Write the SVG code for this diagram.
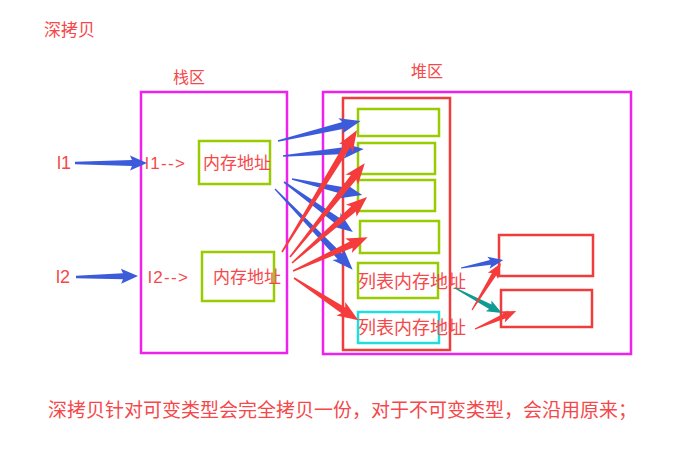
<svg xmlns="http://www.w3.org/2000/svg" width="678" height="457" viewBox="0 0 678 457">
<style>
text{font-family:"Liberation Sans","Noto Sans CJK SC",sans-serif;fill:#f5484a}
.mag{fill:none;stroke:#ee22ee;stroke-width:2.5}
.grn{fill:#fff;stroke:#99cc00;stroke-width:2.5}
.redb{fill:none;stroke:#f03c3c;stroke-width:2.5}
.redw{fill:#fff;stroke:#f03c3c;stroke-width:2.5}
.cyn{fill:#fff;stroke:#22dddd;stroke-width:2.5}
.blue{fill:#3b5bdb}
.red{fill:#f53b3b}
.teal{fill:#109a94}
</style>
<rect width="678" height="457" fill="#fff"/>
<text x="44" y="36" font-size="17">深拷贝</text>
<g id="stack">
<rect class="mag" x="141" y="92" width="146" height="261"/>
<text x="173" y="83" font-size="16">栈区</text>
</g>
<g id="heap">
<rect class="mag" x="323" y="92" width="308" height="262"/>
<text x="411" y="77" font-size="16">堆区</text>
</g>
<g id="heapInner">
<rect class="redb" x="343" y="98" width="107" height="252"/>
</g>
<g id="addrA">
<rect class="grn" x="199" y="141" width="71" height="43"/>
<text x="203" y="169" font-size="17">内存地址</text>
</g>
<g id="addrB">
<rect class="grn" x="202" y="252" width="72" height="49"/>
<text x="213" y="283" font-size="17">内存地址</text>
</g>
<g id="labels">
<text x="57" y="169" font-size="18">l1</text>
<text x="145" y="169" font-size="17" textLength="40" lengthAdjust="spacing">l1--&gt;</text>
<text x="56" y="283" font-size="18">l2</text>
<text x="148" y="283" font-size="17" textLength="40" lengthAdjust="spacing">l2--&gt;</text>
</g>
<g id="cell1"><rect class="grn" x="358" y="109" width="81" height="27"/></g>
<g id="cell2"><rect class="grn" x="358" y="143" width="77" height="31"/></g>
<g id="cell3"><rect class="grn" x="358" y="180" width="77" height="31"/></g>
<g id="cell4"><rect class="grn" x="360" y="221" width="79" height="32"/></g>
<g id="list1"><rect class="grn" x="358" y="263" width="80" height="35"/><text x="358" y="288" font-size="18">列表内存地址</text></g>
<g id="list2"><rect class="cyn" x="358" y="312" width="81" height="31"/><text x="358" y="334" font-size="18">列表内存地址</text></g>
<g id="obj1"><rect class="redw" x="499" y="235" width="94" height="41"/></g>
<g id="obj2"><rect class="redw" x="501" y="290" width="91" height="37"/></g>
<g id="connectors">
<path class="blue" transform="translate(75,163)" d="M0,-1.2 L57,-3 L55,-7.5 L72,0 L55,7.5 L57,3 L0,1.2Z"/>
<path class="blue" transform="translate(76,277) rotate(-1)" d="M0,-1.2 L47,-3 L45,-7.5 L62,0 L45,7.5 L47,3 L0,1.2Z"/>
<path class="blue" transform="translate(278,141) rotate(-13.55)" d="M0,-0.8 L67,-3.5 L64,-8 L85,0 L64,8 L67,3.5 L0,0.8Z"/>
<path class="blue" transform="translate(283,156) rotate(-4.94)" d="M0,-0.8 L63,-3.5 L60,-8 L81,0 L60,8 L63,3.5 L0,0.8Z"/>
<path class="blue" transform="translate(292,179) rotate(12.87)" d="M0,-0.8 L54,-3.5 L51,-8 L72,0 L51,8 L54,3.5 L0,0.8Z"/>
<path class="blue" transform="translate(284,182) rotate(35.93)" d="M0,-0.8 L67,-3.5 L64,-8 L85,0 L64,8 L67,3.5 L0,0.8Z"/>
<path class="blue" transform="translate(275,189) rotate(46.08)" d="M0,-0.6 L94,-3.5 L91,-8 L112,0 L91,8 L94,3.5 L0,0.6Z"/>
<path class="red" transform="translate(282,252) rotate(-58.41)" d="M0,-0.8 L125,-3.5 L122,-8 L143,0 L122,8 L125,3.5 L0,0.8Z"/>
<path class="red" transform="translate(290,257) rotate(-51.41)" d="M0,-0.8 L102,-3.5 L99,-8 L120,0 L99,8 L102,3.5 L0,0.8Z"/>
<path class="red" transform="translate(292,263) rotate(-41.35)" d="M0,-0.8 L82,-3.5 L79,-8 L100,0 L79,8 L82,3.5 L0,0.8Z"/>
<path class="red" transform="translate(293,271) rotate(-24.39)" d="M0,-0.8 L64,-3.5 L61,-8 L82,0 L61,8 L64,3.5 L0,0.8Z"/>
<path class="red" transform="translate(294,278) rotate(33.27)" d="M0,-0.8 L59,-3.5 L56,-8 L77,0 L56,8 L59,3.5 L0,0.8Z"/>
<path class="blue" transform="translate(461,268) rotate(-10.78)" d="M0,-0.6 L30,-2.5 L28,-6 L43,0 L28,6 L30,2.5 L0,0.6Z"/>
<path class="teal" transform="translate(455,288) rotate(28.01)" d="M0,-0.6 L40,-2.5 L38,-6 L53,0 L38,6 L40,2.5 L0,0.6Z"/>
<path class="red" transform="translate(472,310) rotate(-58.33)" d="M0,-0.6 L42,-2.5 L40,-6 L55,0 L40,6 L42,2.5 L0,0.6Z"/>
<path class="red" transform="translate(475,329) rotate(-23.7)" d="M0,-0.6 L32,-2.5 L30,-6 L45,0 L30,6 L32,2.5 L0,0.6Z"/>
</g>
<text x="48" y="417" font-size="19">深拷贝针对可变类型会完全拷贝一份，对于不可变类型，会沿用原来；</text>
</svg>
